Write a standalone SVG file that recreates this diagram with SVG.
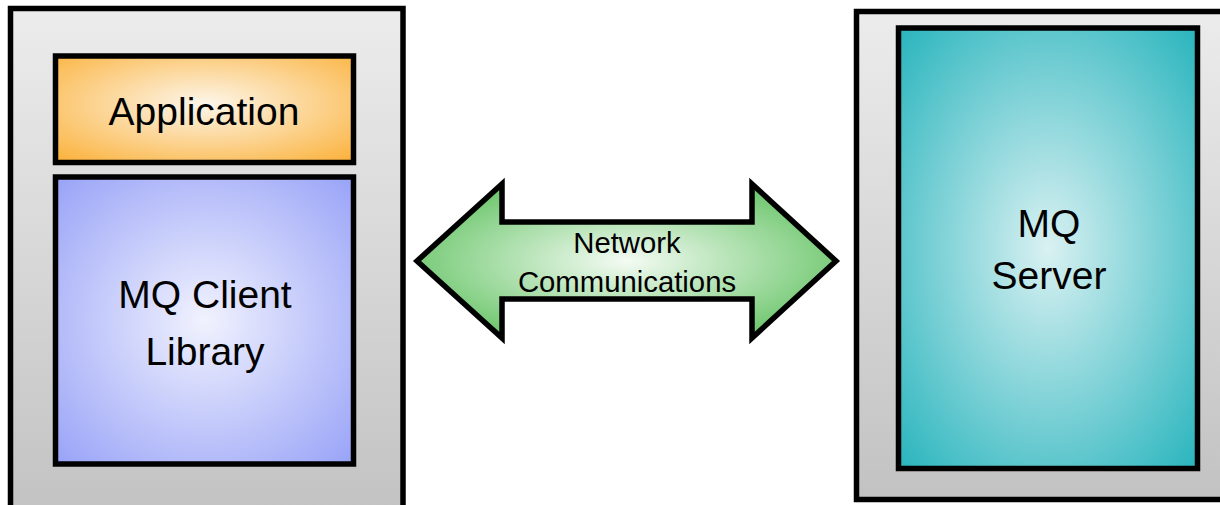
<svg xmlns="http://www.w3.org/2000/svg" width="1220" height="505" viewBox="0 0 1220 505">
<defs>
<style>
.box{stroke:#000;stroke-width:5.5;}
.lbl{font-family:"Liberation Sans",Arial,sans-serif;fill:#000;text-anchor:middle;}
.big{font-size:39px;}
.small{font-size:29.3px;}
</style>
<linearGradient id="gray" x1="0" y1="0" x2="0" y2="1">
<stop offset="0" stop-color="#ececec"/>
<stop offset="1" stop-color="#c2c2c2"/>
</linearGradient>
<radialGradient id="orange" cx="0.5" cy="0.45" r="0.72">
<stop offset="0" stop-color="#fdf6ea"/>
<stop offset="1" stop-color="#fbb23c"/>
</radialGradient>
<radialGradient id="blue" cx="0.5" cy="0.5" r="0.72">
<stop offset="0" stop-color="#f1f2fe"/>
<stop offset="1" stop-color="#96a1f7"/>
</radialGradient>
<radialGradient id="teal" cx="0.5" cy="0.5" r="0.72">
<stop offset="0" stop-color="#d9f1f2"/>
<stop offset="1" stop-color="#25b3bc"/>
</radialGradient>
<radialGradient id="green" cx="0.5" cy="0.5" r="0.6">
<stop offset="0" stop-color="#f4fbf4"/>
<stop offset="1" stop-color="#62c262"/>
</radialGradient>
</defs>
<g id="client-host">
<rect class="box" x="10.5" y="8.5" width="392.5" height="510" fill="url(#gray)"/>
</g>
<g id="application">
<rect class="box" x="55.5" y="56" width="298" height="106.5" fill="url(#orange)"/>
<text class="lbl big" x="204" y="125">Application</text>
</g>
<g id="client-library">
<rect class="box" x="55.5" y="177" width="298" height="287" fill="url(#blue)"/>
<text class="lbl big" x="205" y="308">MQ Client</text>
<text class="lbl big" x="205" y="365">Library</text>
</g>
<g id="server-host">
<rect class="box" x="856.5" y="11.5" width="380" height="488" fill="url(#gray)"/>
</g>
<g id="mq-server">
<rect class="box" x="898.5" y="28" width="299" height="440.5" fill="url(#teal)"/>
<text class="lbl big" x="1049" y="237">MQ</text>
<text class="lbl big" x="1049" y="289">Server</text>
</g>
<g id="connectors">
<path class="box" fill="url(#green)" stroke-linejoin="miter" d="M417,261 L502,184 L502,222 L752,222 L752,184 L836,261 L752,338 L752,299 L502,299 L502,338 Z"/>
<text class="lbl small" x="627" y="253">Network</text>
<text class="lbl small" x="627" y="292">Communications</text>
</g>
</svg>
